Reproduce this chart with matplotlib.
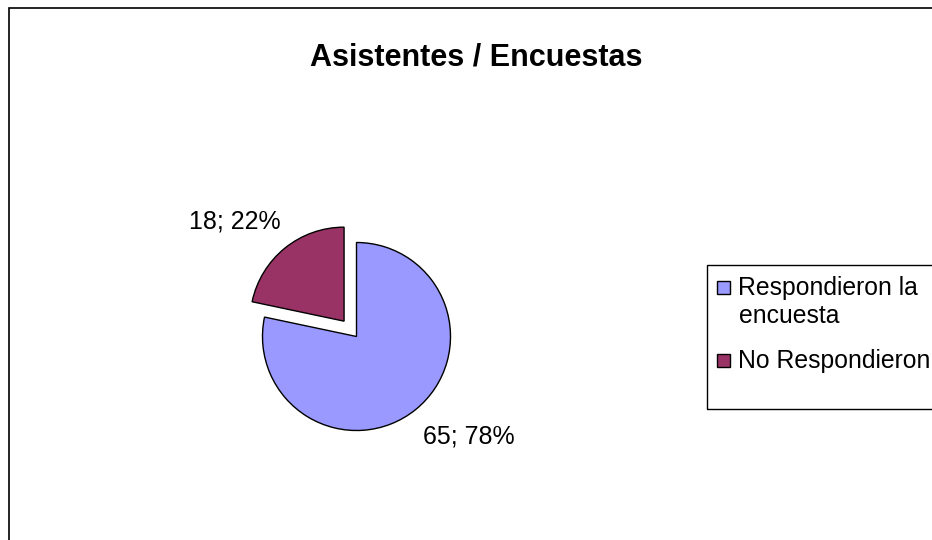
import matplotlib
matplotlib.use("Agg")
import matplotlib.pyplot as plt
from matplotlib.patches import Rectangle

plt.rcParams['font.family'] = ['Liberation Sans', 'DejaVu Sans']

# datos
titulo = "Asistentes / Encuestas"
categorias = ["Respondieron la\nencuesta", "No Respondieron"]
valores = [65, 18]
porcentajes = [78, 22]
colores = ["#9999FF", "#993366"]
separacion = [0, 0.21]

W, H = 932, 540
fig = plt.figure(figsize=(W / 100, H / 100), dpi=100)


def fx(x):
    return x / W


def fy(y):
    return 1 - y / H


# marco del grafico (cortado a la derecha y abajo)
fig.patches.append(Rectangle((fx(9), -0.1), 1.2, fy(8) + 0.1, fill=False,
                             edgecolor="black", linewidth=1.2,
                             transform=fig.transFigure, clip_on=False))

# torta
r_px = 94
ax = fig.add_axes([fx(356.5 - 200), fy(336.5 + 200), 400 / W, 400 / H])
ax.pie(valores, colors=colores, startangle=90, counterclock=False,
       explode=separacion, wedgeprops=dict(edgecolor="black", linewidth=1))
lim = 200 / r_px
ax.set_xlim(-lim, lim)
ax.set_ylim(-lim, lim)
ax.set_aspect("equal")
ax.axis("off")

pos_etiquetas = [(1.191, -1.133), (-1.298, 1.144)]
for v, p, (x, y) in zip(valores, porcentajes, pos_etiquetas):
    ax.text(x, y, f"{v}; {p}%", ha="center", va="baseline", fontsize=18)

fig.text(fx(476.5), fy(65), titulo, ha="center", va="baseline",
         fontsize=22, fontweight="bold")

# leyenda
fig.patches.append(Rectangle((fx(707), fy(409)), 0.5, (409 - 265) / H,
                             fill=False, edgecolor="black", linewidth=1,
                             transform=fig.transFigure, clip_on=False))
for i, (cat, col) in enumerate(zip(categorias, colores)):
    top = 281 + i * 73
    fig.patches.append(Rectangle((fx(717), fy(top + 13)), 13 / W, 13 / H,
                                 facecolor=col, edgecolor="black", linewidth=1,
                                 transform=fig.transFigure))
    for j, linea in enumerate(cat.split("\n")):
        fig.text(fx(738.5), fy(top + 14 + j * 28), linea, ha="left",
                 va="baseline", fontsize=17.8)

fig.savefig("out.png", dpi=100, facecolor="white")
